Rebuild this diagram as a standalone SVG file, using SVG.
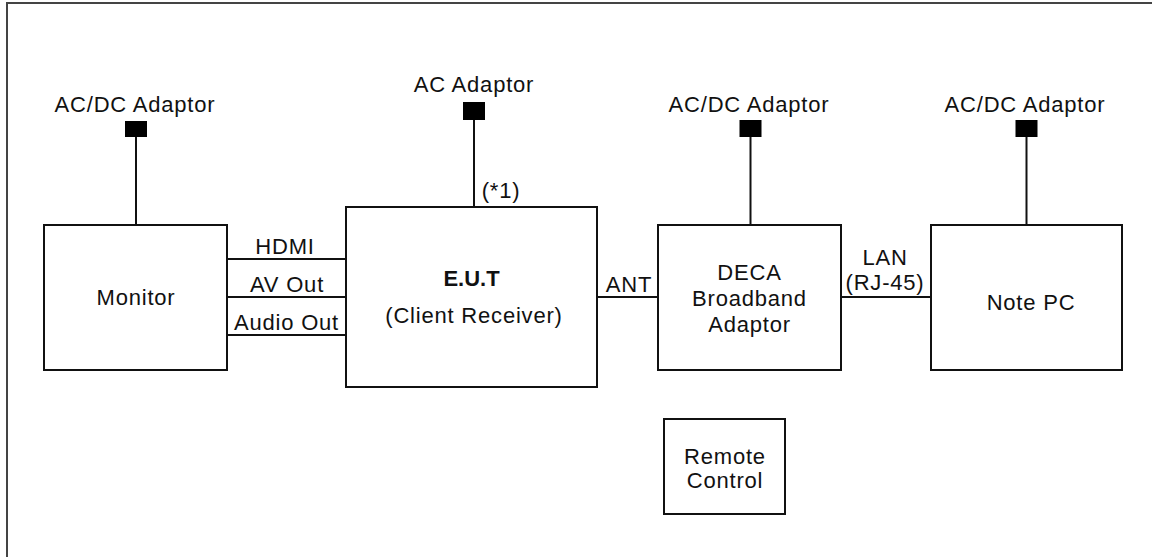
<svg xmlns="http://www.w3.org/2000/svg" width="1152" height="557" viewBox="0 0 1152 557">
<style>
.box{fill:#fff;stroke:#111;stroke-width:2}
.ln{stroke:#111;stroke-width:2;fill:none}
.plug{fill:#000}
text{font-family:"Liberation Sans",Arial,sans-serif;font-size:22px;fill:#111;letter-spacing:0.8px;text-anchor:middle}
.b{font-weight:bold;letter-spacing:0}
</style>
<rect width="1152" height="557" fill="#fff"/>
<path d="M7,557 V3 H1152" stroke="#444" stroke-width="2" fill="none"/>
<g id="connectors">
<line class="ln" x1="136" y1="137" x2="136" y2="225"/>
<line class="ln" x1="474" y1="120" x2="474" y2="207"/>
<line class="ln" x1="750.5" y1="137" x2="750.5" y2="225"/>
<line class="ln" x1="1026.5" y1="137" x2="1026.5" y2="225"/>
<line class="ln" x1="227" y1="259" x2="346" y2="259"/>
<line class="ln" x1="227" y1="297" x2="346" y2="297"/>
<line class="ln" x1="227" y1="335" x2="346" y2="335"/>
<line class="ln" x1="597" y1="297" x2="658" y2="297"/>
<line class="ln" x1="841" y1="297" x2="931" y2="297"/>
<text x="285" y="254">HDMI</text>
<text x="287" y="292">AV Out</text>
<text x="286.5" y="330">Audio Out</text>
<text x="629" y="292">ANT</text>
<text x="885" y="265">LAN</text>
<text x="885" y="290">(RJ-45)</text>
<text x="501" y="198">(*1)</text>
</g>
<g id="adaptor-monitor">
<rect class="plug" x="125" y="121" width="22" height="16"/>
<text x="135" y="112">AC/DC Adaptor</text>
</g>
<g id="adaptor-eut">
<rect class="plug" x="463" y="102" width="22" height="18"/>
<text x="474" y="92">AC Adaptor</text>
</g>
<g id="adaptor-deca">
<rect class="plug" x="739.5" y="120" width="22" height="17"/>
<text x="749" y="112">AC/DC Adaptor</text>
</g>
<g id="adaptor-pc">
<rect class="plug" x="1015.5" y="120" width="22" height="17"/>
<text x="1025" y="112">AC/DC Adaptor</text>
</g>
<g id="monitor">
<rect class="box" x="44" y="225" width="183" height="145"/>
<text x="136" y="305">Monitor</text>
</g>
<g id="eut">
<rect class="box" x="346" y="207" width="251" height="180"/>
<text class="b" x="471.5" y="286">E.U.T</text>
<text x="474" y="323">(Client Receiver)</text>
</g>
<g id="deca">
<rect class="box" x="658" y="225" width="183" height="145"/>
<text x="749.5" y="280">DECA</text>
<text x="749.5" y="306">Broadband</text>
<text x="749.5" y="332">Adaptor</text>
</g>
<g id="notepc">
<rect class="box" x="931" y="225" width="191" height="145"/>
<text x="1031" y="310">Note PC</text>
</g>
<g id="remote">
<rect class="box" x="664" y="419" width="121" height="95"/>
<text x="725" y="464">Remote</text>
<text x="725" y="488">Control</text>
</g>
</svg>
